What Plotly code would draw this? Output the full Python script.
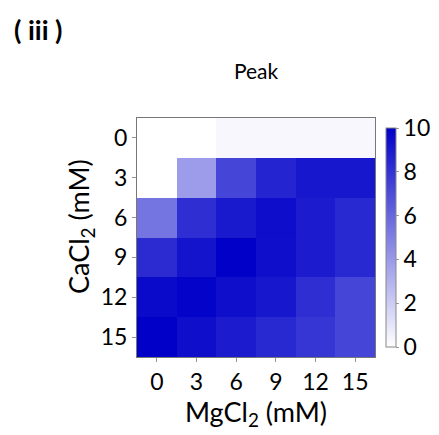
import plotly.graph_objects as go

mgcl2 = ["0", "3", "6", "9", "12", "15"]
cacl2 = ["0", "3", "6", "9", "12", "15"]
peak = [
    [0.0, 0.0, 0.3, 0.3, 0.3, 0.3],
    [0.0, 3.9, 7.3, 8.6, 9.1, 9.1],
    [5.4, 8.2, 9.0, 9.5, 8.9, 8.4],
    [8.3, 9.2, 10.0, 9.4, 8.9, 8.4],
    [9.6, 9.9, 9.4, 9.1, 8.2, 7.3],
    [10.0, 9.4, 8.9, 8.4, 7.9, 7.3],
]

font = "Lato, Open Sans, sans-serif"

# The page body has an 8px margin; figure is sized to fit the 439x435 window.
W, H = 431, 427
L, R, T, B = 129, 64, 110, 78
pw = W - L - R
ph = H - T - B

fig = go.Figure(go.Heatmap(
    z=peak, x=mgcl2, y=cacl2,
    zmin=0, zmax=10,
    colorscale=[[0, "rgb(255,255,255)"], [1, "rgb(0,0,200)"]],
    colorbar=dict(
        x=(378 - L) / pw, xanchor="left", xpad=0, y=0.5, yanchor="middle",
        len=1.0, lenmode="fraction", thickness=10,
        outlinewidth=1, outlinecolor="#888",
        tickvals=[0, 2, 4, 6, 8, 10],
        ticks="outside", ticklen=3, tickcolor="#999",
        tickfont=dict(size=23, color="black", family=font),
    ),
))

fig.update_layout(
    width=W, height=H,
    margin=dict(l=L, r=R, t=T, b=B, autoexpand=False),
    paper_bgcolor="white", plot_bgcolor="white",
    title=dict(text="Peak", x=248 / W, xanchor="center", y=1 - 64 / H, yanchor="middle",
               font=dict(size=21, color="black", family=font)),
    font=dict(family=font, color="black"),
    xaxis=dict(
        title=dict(text="MgCl<sub>2</sub> (mM)", font=dict(size=27), standoff=8),
        tickfont=dict(size=23), ticks="outside", ticklen=4, tickcolor="#999",
        showline=True, linecolor="#777", mirror=True, showgrid=False,
    ),
    yaxis=dict(
        tickfont=dict(size=23), autorange="reversed", ticks="outside", ticklen=4, tickcolor="#999",
        showline=True, linecolor="#777", mirror=True, showgrid=False,
    ),
    annotations=[
        dict(text="<b>( iii )</b>", x=(4 - L) / pw, y=(H - B - 22) / ph,
             xref="paper", yref="paper",
             showarrow=False, font=dict(size=27, family=font, color="black"),
             xanchor="left", yanchor="middle"),
        dict(text="CaCl<sub>2</sub> (mM)", textangle=-90,
             x=(72 - L) / pw, y=(H - B - 219) / ph,
             xref="paper", yref="paper",
             showarrow=False, font=dict(size=27, family=font, color="black"),
             xanchor="center", yanchor="middle"),
    ],
)

fig.write_html("out.html")
